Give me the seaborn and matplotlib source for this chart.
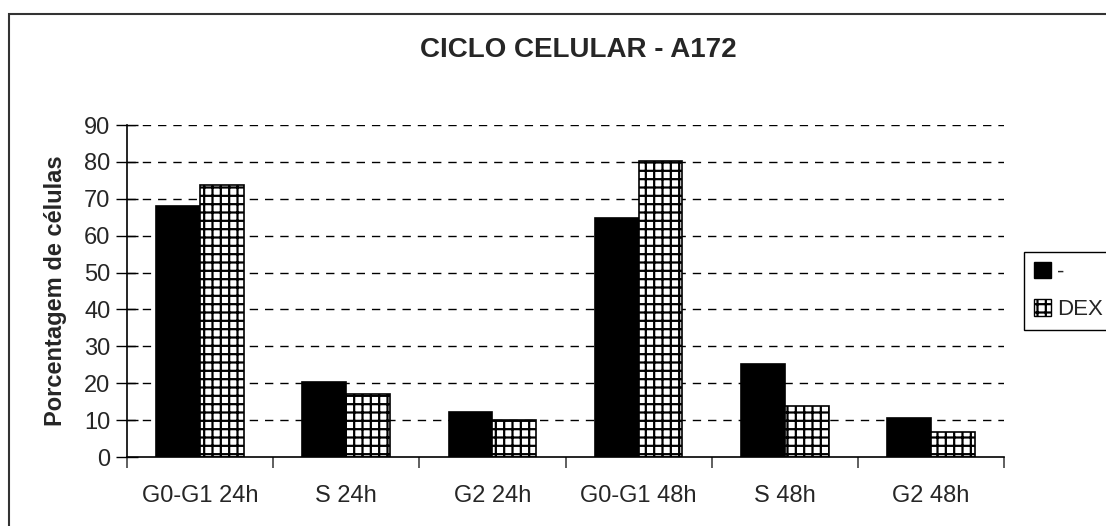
import matplotlib
matplotlib.use("Agg")
import matplotlib.pyplot as plt
import matplotlib.patches as mpatches
from matplotlib.ticker import FixedLocator
import seaborn as sns
import pandas as pd

categories = ["G0-G1 24h", "S 24h", "G2 24h", "G0-G1 48h", "S 48h", "G2 48h"]
series_names = ["-", "DEX"]
control_values = [68.0, 20.3, 12.2, 64.8, 25.2, 10.5]
dex_values = [73.8, 17.0, 10.0, 80.3, 13.8, 6.8]
y_ticks = [0, 10, 20, 30, 40, 50, 60, 70, 80, 90]

df = pd.DataFrame({
    "cat": categories * 2,
    "grp": [series_names[0]] * len(categories) + [series_names[1]] * len(categories),
    "val": control_values + dex_values,
})

sns.set_theme(style="white")
plt.rcParams["font.family"] = ["Liberation Sans", "DejaVu Sans"]
plt.rcParams["hatch.linewidth"] = 1.6
plt.rcParams["hatch.color"] = "black"

W, H = 1106, 526
fig = plt.figure(figsize=(W / 100, H / 100), dpi=100)
ax = fig.add_axes([127 / W, (H - 457) / H, (1004 - 127) / W, (457 - 125) / H])

sns.barplot(data=df, x="cat", y="val", hue="grp", order=categories,
            hue_order=series_names, palette=["black", "white"],
            width=0.6, edgecolor="black", linewidth=1.2, ax=ax, legend=False)

n = len(categories)
for i, p in enumerate(ax.patches[:2 * n]):
    if i >= n:
        p.set_hatch("++")
        p.set_facecolor("white")
        p.set_edgecolor("black")

ax.set_ylim(0, 90)
ax.set_xlim(-0.5, n - 0.5)
ax.set_yticks(y_ticks)
ax.set_yticklabels([str(v) for v in y_ticks], fontsize=17)
ax.set_xticks(range(n))
ax.set_xticklabels(categories, fontsize=17)
ax.xaxis.set_minor_locator(FixedLocator([i - 0.5 for i in range(n + 1)]))
ax.tick_params(axis="x", which="major", length=0, pad=20)
ax.tick_params(axis="x", which="minor", length=8, width=1.2, color="#444444", direction="out", bottom=True)
ax.tick_params(axis="y", which="major", length=16, width=1.0, color="black", direction="inout", left=True, pad=4)

for v in y_ticks[1:]:
    ax.axhline(v, color="black", linestyle=(0, (6, 5)), linewidth=1.0, zorder=0)

for s in ["top", "right"]:
    ax.spines[s].set_visible(False)
for s in ["left", "bottom"]:
    ax.spines[s].set_color("black")
    ax.spines[s].set_linewidth(1.2)

ax.set_xlabel("")
ax.set_ylabel("Porcentagem de células", fontsize=17, fontweight="bold")
ax.yaxis.set_label_coords(-60 / 877, 0.5)

fig.text(578 / W, 1 - 50 / H, "CICLO CELULAR - A172", ha="center", va="center",
         fontsize=20, fontweight="bold")

handles = [mpatches.Patch(facecolor="black", edgecolor="black", label=series_names[0]),
           mpatches.Patch(facecolor="white", edgecolor="black", hatch="++", label=series_names[1])]
leg = ax.legend(handles=handles, loc="center left", bbox_to_anchor=(1 + 20 / 877, 0.5),
                borderaxespad=0, frameon=True, fancybox=False, framealpha=1.0, fontsize=16,
                handlelength=0.75, handleheight=0.75, handletextpad=0.3, borderpad=0.45,
                labelspacing=0.75)
leg.get_frame().set_edgecolor("black")
leg.get_frame().set_linewidth(1.0)

border = mpatches.Rectangle((9 / W, -0.1), 1.2, 1 - 14 / H + 0.1, transform=fig.transFigure,
                            fill=False, edgecolor="#333333", linewidth=1.5, clip_on=False)
fig.patches.append(border)

fig.savefig("out.png", dpi=100)
